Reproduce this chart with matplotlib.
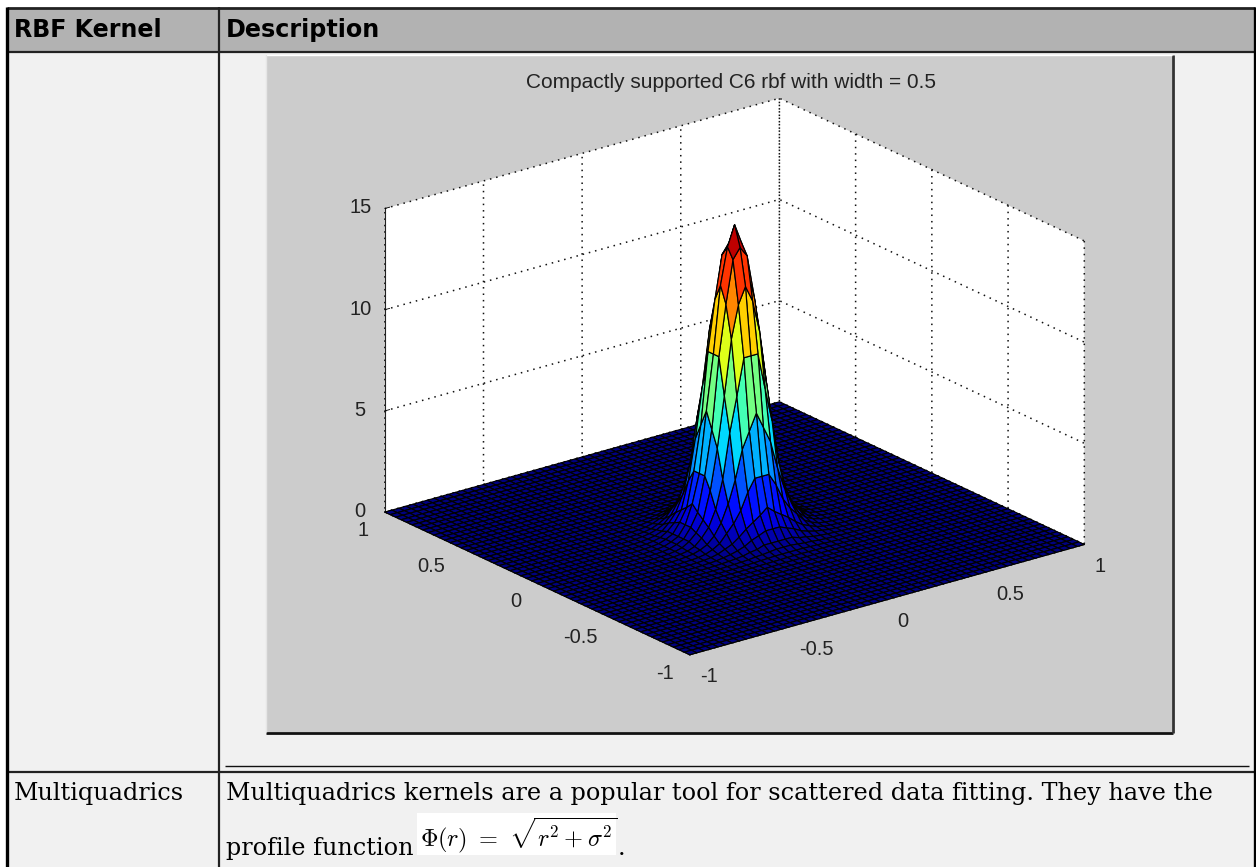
import numpy as np
import matplotlib
matplotlib.use("Agg")
import matplotlib.pyplot as plt
from matplotlib.patches import Rectangle
from matplotlib.lines import Line2D
from matplotlib.transforms import ScaledTranslation

W, H = 1256, 867
# --- data ---
columns = ["RBF Kernel", "Description"]
row_name = "Multiquadrics"
row_text1 = "Multiquadrics kernels are a popular tool for scattered data fitting. They have the"
row_text2 = "profile function"
formula = r"$\Phi(r)\ =\ \sqrt{r^{2}+\sigma^{2}}$"
plot_title = "Compactly supported C6 rbf with width = 0.5"
x_ticks = [-1, -0.5, 0, 0.5, 1]
y_ticks = [-1, -0.5, 0, 0.5, 1]
z_ticks = [0, 5, 10, 15]
tick_labels_xy = ["-1", "-0.5", "0", "0.5", "1"]
tick_labels_z = ["0", "5", "10", "15"]
# radial height profile of the peak, one value per 0.01 of radius
radial_heights = [15.0, 14.95, 14.75, 14.45, 14.0, 13.5, 12.9, 12.2, 11.4, 10.6,
                  9.8, 8.9, 8.0, 7.1, 6.2, 5.4, 4.6, 3.9, 3.2, 2.6,
                  2.1, 1.8, 1.5, 1.25, 1.0, 0.85, 0.7, 0.57, 0.45, 0.37,
                  0.3, 0.25, 0.2, 0.16, 0.12, 0.1, 0.08, 0.06, 0.05, 0.04,
                  0.03, 0.025, 0.02, 0.015, 0.01, 0.005, 0.0, 0.0, 0.0, 0.0, 0.0]
grid_axis = list(np.arange(-28, 29) / 28)

fig = plt.figure(figsize=(W / 100, H / 100), dpi=100, facecolor="white")

def bx(x): return x / W
def by(y): return 1 - y / H

def rect(x0, y0, x1, y1, color, z=0):
    fig.add_artist(Rectangle((bx(x0), by(y1)), (x1 - x0) / W, (y1 - y0) / H,
                             transform=fig.transFigure, facecolor=color,
                             edgecolor="none", zorder=z))

def line(x0, y0, x1, y1, lw=1.5, color="#222222", z=5):
    fig.add_artist(Line2D([bx(x0), bx(x1)], [by(y0), by(y1)], transform=fig.transFigure,
                          color=color, lw=lw, zorder=z, solid_capstyle="butt"))

# table
rect(7, 8, 1254, 867, "#f1f1f1", 0)
rect(7, 8, 1254, 52, "#b2b2b2", 1)
line(7, 7.5, 1255, 7.5, 2.0)
line(7, 52, 1254, 52, 1.6)
line(7, 772, 1254, 772, 1.6)
line(7, 7, 7, 867, 2.4, "#000000")
line(1254.5, 7, 1254.5, 867, 2.4, "#000000")
line(219, 7, 219, 867, 1.6)
line(225, 765.5, 1249, 765.5, 1.0, "#111111")

fig.text(bx(14), by(37), columns[0], family="DejaVu Sans", weight="bold", fontsize=17.1,
         va="baseline", ha="left", zorder=6)
fig.text(bx(226), by(37), columns[1], family="DejaVu Sans", weight="bold", fontsize=17.2,
         va="baseline", ha="left", zorder=6)
fig.text(bx(14), by(800), row_name, family="DejaVu Serif", fontsize=17.2, va="baseline", zorder=6)
fig.text(bx(226), by(800), row_text1, family="DejaVu Serif", fontsize=17.2, va="baseline", zorder=6)
fig.text(bx(226), by(855), row_text2, family="DejaVu Serif", fontsize=17.2, va="baseline", zorder=6)
rect(417, 813, 616, 855, "#ffffff", 2)
fig.text(bx(420), by(846), formula, fontsize=17.5, math_fontfamily="cm", va="baseline", zorder=6)
fig.text(bx(618), by(855), ".", family="DejaVu Serif", fontsize=17.2, va="baseline", zorder=6)

# matlab figure background
rect(266, 55, 1172, 732, "#cccccc", 2)
line(266, 732.5, 1173, 732.5, 2.0, "#111111")
line(1172.5, 55, 1172.5, 733, 2.0, "#333333")
line(266, 55, 1172, 55, 1.0, "#ffffff")
line(266, 55, 266, 732, 1.0, "#e6e6e6")

fig.text(bx(731), by(83), plot_title, family="Liberation Sans", fontsize=15, ha="center",
         va="center", color="#222222", zorder=6)

# 3-D axes
size = 754
cx, cy = 724.4, 386.7
ax = fig.add_axes([bx(cx - size / 2), by(cy + size / 2), size / W, size / H],
                  projection="3d", computed_zorder=True, zorder=3)
ax.patch.set_alpha(0)
ax.set_proj_type("ortho")
ax.view_init(elev=21.2, azim=-127.7)
ax.set_xlim(-1, 1); ax.set_ylim(-1, 1); ax.set_zlim(0, 15)
ax.set_box_aspect((1, 1, 0.653), zoom=1.0)

gx, gy = np.meshgrid(grid_axis, grid_axis)
rr = np.hypot(gx, gy)
idx = np.rint(rr / 0.01).astype(int)
heights = np.array(radial_heights)
gz = np.where(idx < len(heights), heights[np.minimum(idx, len(heights) - 1)], 0.0)
ax.plot_surface(gx, gy, gz, rstride=1, cstride=1, cmap="jet", vmin=0, vmax=15,
                edgecolor="black", linewidth=0.85, shade=False, antialiased=True)

ax.set_xticks(x_ticks); ax.set_xticklabels(tick_labels_xy)
ax.set_yticks(y_ticks); ax.set_yticklabels(tick_labels_xy)
ax.set_zticks(z_ticks); ax.set_zticklabels(tick_labels_z)
for a in (ax.xaxis, ax.yaxis, ax.zaxis):
    a.set_pane_color((1, 1, 1, 1))
    a.pane.set_edgecolor("none")
    a._axinfo["grid"].update(color="#111111", linewidth=1.1, linestyle=(0, (1, 3.2)))
    a._axinfo["tick"].update(inward_factor=0.0, outward_factor=0.15, linewidth={True: 0.6, False: 0.6})
    a._axinfo["axisline"].update(color="#222222", linewidth=0.7)
    a.line.set_linewidth(0.8); a.line.set_color("#222222")
ax.tick_params(axis="x", labelsize=14.5, labelcolor="#222222", pad=-2)
ax.tick_params(axis="y", labelsize=14.5, labelcolor="#222222", pad=-2)
ax.tick_params(axis="z", labelsize=14.5, labelcolor="#222222", pad=2)

def nudge(lab, dx_px, dy_px):
    # Axis3D re-applies transData on every tick lookup, so keep the offset transform fixed
    lab.set_transform(ax.transData + ScaledTranslation(dx_px / 100, dy_px / 100, fig.dpi_scale_trans))
    lab.set_transform = lambda *_: None

for lab in ax.get_xticklabels():
    lab.set_family("Liberation Sans"); lab.set_ha("left"); nudge(lab, 4, -3)
for lab in ax.get_yticklabels():
    lab.set_family("Liberation Sans"); lab.set_ha("right"); nudge(lab, -8, 0)
for lab in ax.get_zticklabels():
    lab.set_family("Liberation Sans"); nudge(lab, 0, 9)

fig.savefig("out.png", dpi=100)
